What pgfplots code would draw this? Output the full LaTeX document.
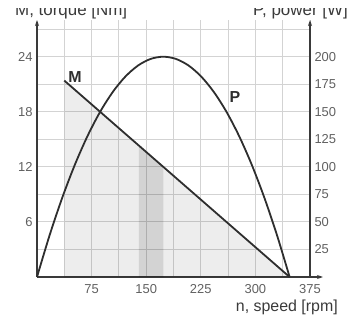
\documentclass[border=0pt]{standalone}
\usepackage{pgfplots}
\pgfplotsset{compat=1.18}
\usepackage{fontspec}
\setmainfont{Liberation Sans}
\usetikzlibrary{arrows.meta}
\definecolor{gridc}{HTML}{D3D3D3}
\definecolor{curvec}{HTML}{2E2E2E}
\definecolor{axisc}{HTML}{3A3A3A}
\definecolor{tickc}{HTML}{606060}
\begin{document}
\begin{tikzpicture}[x=1bp,y=1bp]
\useasboundingbox (-37bp,-43bp) rectangle (321bp,277bp);
\begin{axis}[
  at={(0,0)}, anchor=south west,
  scale only axis, width=273bp, height=257bp,
  xmin=0, xmax=375, ymin=0, ymax=28,
  axis x line=bottom, axis y line=left,
  axis line style={draw=axisc, line width=1.1bp},
  x axis line style={-{Stealth[length=6bp,width=4bp]}, shorten >=-13bp},
  y axis line style={-{Stealth[length=6bp,width=4bp]}},
  xtick={75,150,225,300,375},
  minor xtick={37.5,112.5,187.5,262.5,337.5},
  ytick={6,12,18,24},
  minor ytick={3,9,15,21,27},
  grid=both,
  major grid style={draw=gridc, line width=0.9bp},
  minor grid style={draw=gridc, line width=0.9bp},
  major tick length=0pt, minor tick length=0pt,
  tick style={draw=none},
  /pgf/number format/assume math mode=true,
  ticklabel style={font=\fontsize{13}{13}\selectfont, text=tickc},
  xticklabel style={yshift=-4bp},
  yticklabel style={xshift=-1bp},
  clip=false,
]
\addplot[draw=none, fill=black, fill opacity=0.07] coordinates {(37.5,21.4) (347,0)} \closedcycle;
\addplot[draw=none, fill=black, fill opacity=0.11] coordinates {(140,14.32) (173.5,12.0)} \closedcycle;
\addplot[draw=curvec, line width=1.8bp] coordinates {(37.5,21.4) (347,0)};
\end{axis}
\begin{axis}[
  at={(0,0)}, anchor=south west,
  scale only axis, width=273bp, height=257bp,
  xmin=0, xmax=375, ymin=0, ymax=233.33,
  axis x line=none, axis y line=right,
  axis line style={draw=axisc, line width=1.1bp},
  y axis line style={-{Stealth[length=6bp,width=4bp]}},
  ytick={25,50,75,100,125,150,175,200},
  major tick length=0pt, tick style={draw=none},
  /pgf/number format/assume math mode=true,
  ticklabel style={font=\fontsize{13}{13}\selectfont, text=tickc},
  yticklabel style={xshift=1bp},
  clip=false,
]
\addplot[draw=curvec, line width=1.8bp, smooth] coordinates {
(0,0) (17.35,38) (34.7,72) (52.05,102) (69.4,128) (86.75,150) (104.1,168)
(121.45,182) (138.8,192) (156.15,198) (173.5,200) (190.85,198) (208.2,192)
(225.55,182) (242.9,168) (260.25,150) (277.6,128) (294.95,102) (312.3,72)
(329.65,38) (347,0)};
\end{axis}
\node[anchor=center, font=\bfseries\fontsize{16}{16}\selectfont, text=curvec] at (38bp,200bp) {M};
\node[anchor=center, font=\bfseries\fontsize{16}{16}\selectfont, text=curvec] at (198bp,180bp) {P};
\node[anchor=base west, inner sep=0pt, font=\fontsize{17}{17}\selectfont, text=axisc] at (-22bp,261bp) {M, torque [Nm]};
\node[anchor=base east, inner sep=0pt, font=\fontsize{17}{17}\selectfont, text=axisc] at (311bp,261bp) {P, power [W]};
\fill[white] (-40bp,269bp) rectangle (325bp,290bp);
\node[anchor=base east, inner sep=0pt, font=\fontsize{16}{16}\selectfont, text=axisc] at (301bp,-34bp) {n, speed [rpm]};
\end{tikzpicture}
\end{document}
